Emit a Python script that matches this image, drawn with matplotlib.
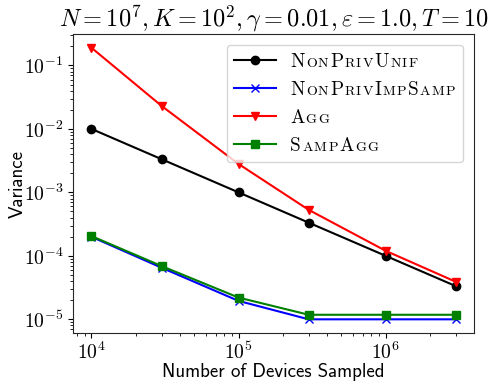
import matplotlib
matplotlib.use("Agg")
import matplotlib.pyplot as plt
from matplotlib.lines import Line2D
from matplotlib.offsetbox import AnchoredOffsetbox, DrawingArea, HPacker, TextArea, VPacker

plt.rcParams['mathtext.fontset'] = 'cm'
plt.rcParams['font.family'] = 'cmr10'
plt.rcParams['axes.formatter.use_mathtext'] = True

# number of devices sampled
devices = [1e4, 3e4, 1e5, 3e5, 1e6, 3e6]

# variance per method
non_priv_unif = [1.0e-2, 3.33e-3, 1.0e-3, 3.33e-4, 1.0e-4, 3.33e-5]
non_priv_imp_samp = [2.0e-4, 6.5e-5, 1.95e-5, 1.0e-5, 1.0e-5, 1.0e-5]
agg = [1.9e-1, 2.3e-2, 2.8e-3, 5.3e-4, 1.2e-4, 3.9e-5]
samp_agg = [2.05e-4, 6.9e-5, 2.2e-5, 1.18e-5, 1.18e-5, 1.18e-5]

labels = ['NonPrivUnif', 'NonPrivImpSamp', 'Agg', 'SampAgg']

fig = plt.figure(figsize=(4.98, 3.88), dpi=100)
ax = fig.add_axes([0.147, 0.142, 0.805, 0.77])

lines = []
lines += ax.plot(devices, non_priv_unif, color='k', marker='o')
lines += ax.plot(devices, non_priv_imp_samp, color='b', marker='x')
lines += ax.plot(devices, agg, color='r', marker='v')
lines += ax.plot(devices, samp_agg, color='g', marker='s')

ax.set_xscale('log')
ax.set_yscale('log')
ax.tick_params(labelsize=14.2)
ax.tick_params(axis='x', pad=3)
for s in ax.spines.values():
    s.set_color('0.15')

ax.set_xlabel('Number of Devices Sampled', family='cmss10', fontsize=13.6)
ax.set_ylabel('Variance', family='cmss10', fontsize=13.6)
ax.xaxis.set_label_coords(0.5, -0.102)
ax.yaxis.set_label_coords(-0.117, 0.5)
ax.set_title(r'$N=10^7, K=10^2, \gamma=0.01, \varepsilon=1.0, T=10$', fontsize=17.5, pad=4)

CAP = 13.8


def small_caps(word, size):
    # fake small caps: capitals full size, lowercase as smaller capitals
    parts = []
    for ch in word:
        fs = size if ch.isupper() else size * 0.73
        parts.append(TextArea(ch.upper(), textprops=dict(fontsize=fs, family='cmr10')))
    return HPacker(children=parts, align='baseline', pad=0, sep=1.0)


rows = []
for ln, lab in zip(lines, labels):
    mid = 0.683 * CAP / 2
    da = DrawingArea(30, 8, 0, 0)
    da.add_artist(Line2D([0, 30], [mid, mid], color=ln.get_color(), lw=1.5))
    da.add_artist(Line2D([15], [mid], color=ln.get_color(), marker=ln.get_marker(), ms=6))
    rows.append(HPacker(children=[da, small_caps(lab, CAP)], align='baseline', pad=0, sep=10))

box = AnchoredOffsetbox(loc='upper right', child=VPacker(children=rows, align='left', pad=0, sep=7.3),
                        pad=5.5 / 12, borderpad=0, frameon=True, prop=dict(size=12),
                        bbox_to_anchor=(463 / 498, 1 - 45 / 388), bbox_transform=fig.transFigure)
box.patch.set_boxstyle('round,pad=0,rounding_size=0.2')
box.patch.set_edgecolor('0.8')
box.patch.set_alpha(0.8)
ax.add_artist(box)

fig.savefig('out.png', dpi=100)
